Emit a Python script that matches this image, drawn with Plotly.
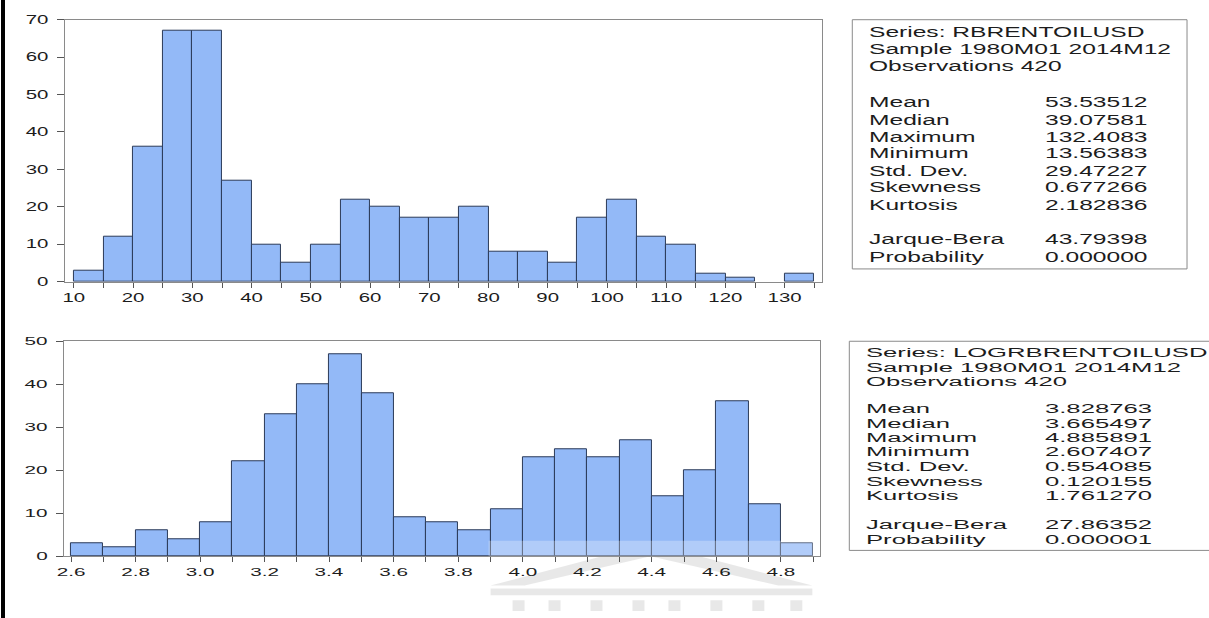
import plotly.graph_objects as go

# Histogram of monthly Brent crude prices (USD), 1980M01-2014M12
price_bin_start = 10
price_bin_width = 5
price_counts = [3, 12, 36, 67, 67, 27, 10, 5, 10, 22, 20, 17, 17, 20, 8, 8, 5,
                17, 22, 12, 10, 2, 1, 0, 2]
price_y_ticks = [0, 10, 20, 30, 40, 50, 60, 70]
price_x_labels = [10, 20, 30, 40, 50, 60, 70, 80, 90, 100, 110, 120, 130]

# Histogram of the log of the same series
log_bin_start = 2.6
log_bin_width = 0.1
log_counts = [3, 2, 6, 4, 8, 22, 33, 40, 47, 38, 9, 8, 6, 11, 23, 25, 23, 27,
              14, 20, 36, 12, 3]
log_y_ticks = [0, 10, 20, 30, 40, 50]
log_x_labels = ["2.6", "2.8", "3.0", "3.2", "3.4", "3.6", "3.8", "4.0", "4.2",
                "4.4", "4.6", "4.8"]

# Descriptive statistics tables
stat_names = ["Mean", "Median", "Maximum", "Minimum", "Std. Dev.", "Skewness",
              "Kurtosis", "Jarque-Bera", "Probability"]
price_header = ["Series: RBRENTOILUSD", "Sample 1980M01 2014M12", "Observations 420"]
price_stats = ["53.53512", "39.07581", "132.4083", "13.56383", "29.47227",
               "0.677266", "2.182836", "43.79398", "0.000000"]
log_header = ["Series: LOGRBRENTOILUSD", "Sample 1980M01 2014M12", "Observations 420"]
log_stats = ["3.828763", "3.665497", "4.885891", "2.607407", "0.554085",
             "0.120155", "1.761270", "27.86352", "0.000001"]

W, H = 1209, 618
FONT = "Liberation Sans, Arial, sans-serif"
BAR_FILL = "#93b9f7"
BAR_EDGE = "#2b3a58"
FRAME = "#8a8a8a"
TEXT = "#1c1c1c"


def px(x):
    return x / W


def py(y):
    return 1 - y / H


def bins(start, width, counts, ndigits):
    centers = [round(start + (i + 0.5) * width, ndigits) for i in range(len(counts))]
    edges = [round(start + i * width, ndigits) for i in range(len(counts) + 1)]
    return centers, edges


p_centers, p_edges = bins(price_bin_start, price_bin_width, price_counts, 6)
l_centers, l_edges = bins(log_bin_start, log_bin_width, log_counts, 6)


def bar_marker(counts):
    # empty bins get no outline so nothing is drawn on the axis
    return dict(color=BAR_FILL,
                line=dict(color=BAR_EDGE, width=[1 if c > 0 else 0 for c in counts]))


fig = go.Figure()
fig.add_trace(go.Bar(x=p_centers, y=price_counts, width=price_bin_width,
                     marker=bar_marker(price_counts),
                     xaxis="x", yaxis="y", hoverinfo="skip"))
fig.add_trace(go.Bar(x=l_centers, y=log_counts, width=log_bin_width,
                     marker=bar_marker(log_counts),
                     xaxis="x2", yaxis="y2", hoverinfo="skip"))

# tick marks at every bin edge, labels on every second edge
p_ticktext = [str(int(e)) if e == int(e) and int(e) in price_x_labels else "" for e in p_edges]
log_label_set = set(log_x_labels)
l_ticktext = [f"{e:.1f}" if f"{e:.1f}" in log_label_set else "" for e in l_edges]

axis_common = dict(showline=True, linecolor=FRAME, linewidth=1, mirror=True,
                   showgrid=False, zeroline=False, ticks="outside",
                   tickcolor="#555555", tickwidth=1)

fig.update_layout(
    width=W, height=H, margin=dict(l=0, r=0, t=0, b=0),
    paper_bgcolor="white", plot_bgcolor="white", showlegend=False,
    bargap=0,
    font=dict(family=FONT, color=TEXT),
    xaxis=dict(domain=[px(64), px(822)], range=[8.48, 136.35], anchor="y",
               tickvals=p_edges, ticktext=p_ticktext, ticklen=5,
               tickfont=dict(size=12, color=TEXT), **axis_common),
    yaxis=dict(domain=[py(281), py(13)], range=[0, 70], anchor="x",
               tickvals=price_y_ticks, ticklen=7, ticklabelstandoff=6,
               tickfont=dict(size=12, color=TEXT), **axis_common),
    xaxis2=dict(domain=[px(63), px(820)], range=[2.578, 4.922], anchor="y2",
                tickvals=l_edges, ticktext=l_ticktext, ticklen=5,
                tickfont=dict(size=11.5, color=TEXT), **axis_common),
    yaxis2=dict(domain=[py(562), py(342)], range=[0, 50], anchor="x2",
                tickvals=log_y_ticks, ticklen=7, ticklabelstandoff=6,
                tickfont=dict(size=11.5, color=TEXT), **axis_common),
)

shapes = []
# page border on the left
shapes.append(dict(type="rect", xref="paper", yref="paper", x0=0, x1=px(4),
                   y0=-0.02, y1=1.02, fillcolor="black", line=dict(width=0)))
# statistics boxes
shapes.append(dict(type="rect", xref="paper", yref="paper", x0=px(852), x1=px(1187),
                   y0=py(268), y1=py(13), line=dict(color=FRAME, width=1)))
shapes.append(dict(type="rect", xref="paper", yref="paper", x0=px(849), x1=px(1230),
                   y0=py(556), y1=py(342), line=dict(color=FRAME, width=1)))

# faint crest watermark under the lower chart
wm = "rgba(190,190,190,0.35)"
shapes.append(dict(type="rect", xref="paper", yref="paper", x0=px(488), x1=px(813),
                   y0=py(562), y1=py(546), fillcolor="rgba(255,255,255,0.28)",
                   line=dict(width=0), layer="above"))
shapes.append(dict(type="path", xref="paper", yref="paper",
                   path=(f"M {px(490)} {py(592)} L {px(650)} {py(549)} L {px(812)} {py(592)} "
                         f"L {px(778)} {py(592)} L {px(650)} {py(562)} L {px(524)} {py(592)} Z"),
                   fillcolor=wm, line=dict(width=0), layer="below"))
shapes.append(dict(type="rect", xref="paper", yref="paper", x0=px(490), x1=px(812),
                   y0=py(602), y1=py(595), fillcolor=wm, line=dict(width=0), layer="below"))
for cx in [512, 548, 590, 632, 668, 710, 752, 790]:
    shapes.append(dict(type="rect", xref="paper", yref="paper", x0=px(cx), x1=px(cx + 12),
                       y0=py(618), y1=py(607), fillcolor=wm, line=dict(width=0),
                       layer="below"))
fig.update_layout(shapes=shapes)

annotations = []


def table(header, values, x_left, x_right, header_rows, stat_rows, size):
    for text, yy in zip(header, header_rows):
        annotations.append(dict(text=text, x=px(x_left), y=py(yy), xref="paper",
                                yref="paper", xanchor="left", yanchor="middle",
                                align="left", showarrow=False,
                                font=dict(size=size, color=TEXT, family=FONT)))
    for name, val, yy in zip(stat_names, values, stat_rows):
        for text, xx in ((name, x_left), (val, x_right)):
            annotations.append(dict(text=text, x=px(xx), y=py(yy), xref="paper",
                                    yref="paper", xanchor="left", yanchor="middle",
                                    align="left", showarrow=False,
                                    font=dict(size=size, color=TEXT, family=FONT)))


table(price_header, price_stats, 867, 1043,
      [25, 42, 60], [97, 115, 132, 149, 167, 184, 202, 237, 255], 15)
table(log_header, log_stats, 864, 1043,
      [354, 369, 383], [411, 426, 440, 455, 470, 485, 500, 530, 545], 13.5)
fig.update_layout(annotations=annotations)

# EViews-style wide lettering: stretch each text horizontally about its anchor
post = """
var gd = document.getElementById('{plot_id}');
var stretch = {'15': 1.64, '13.5': 1.9, '12': 1.7, '11.5': 1.8};
gd.querySelectorAll('text').forEach(function (el) {
  var s = stretch[String(parseFloat(el.style.fontSize))];
  if (!s || !el.textContent) return;
  var bb = el.getBBox();
  var anchor = el.getAttribute('text-anchor') || 'start';
  var ax = bb.x;
  if (!el.classList.contains('annotation-text')) {
    if (anchor === 'middle') ax = bb.x + bb.width / 2;
    else if (anchor === 'end') ax = bb.x + bb.width;
  }
  var t = el.getAttribute('transform') || '';
  el.setAttribute('transform', t + ' translate(' + ax + ',0) scale(' + s + ',1) translate(' + (-ax) + ',0)');
});
"""

fig.write_html("out.html", post_script=post)
